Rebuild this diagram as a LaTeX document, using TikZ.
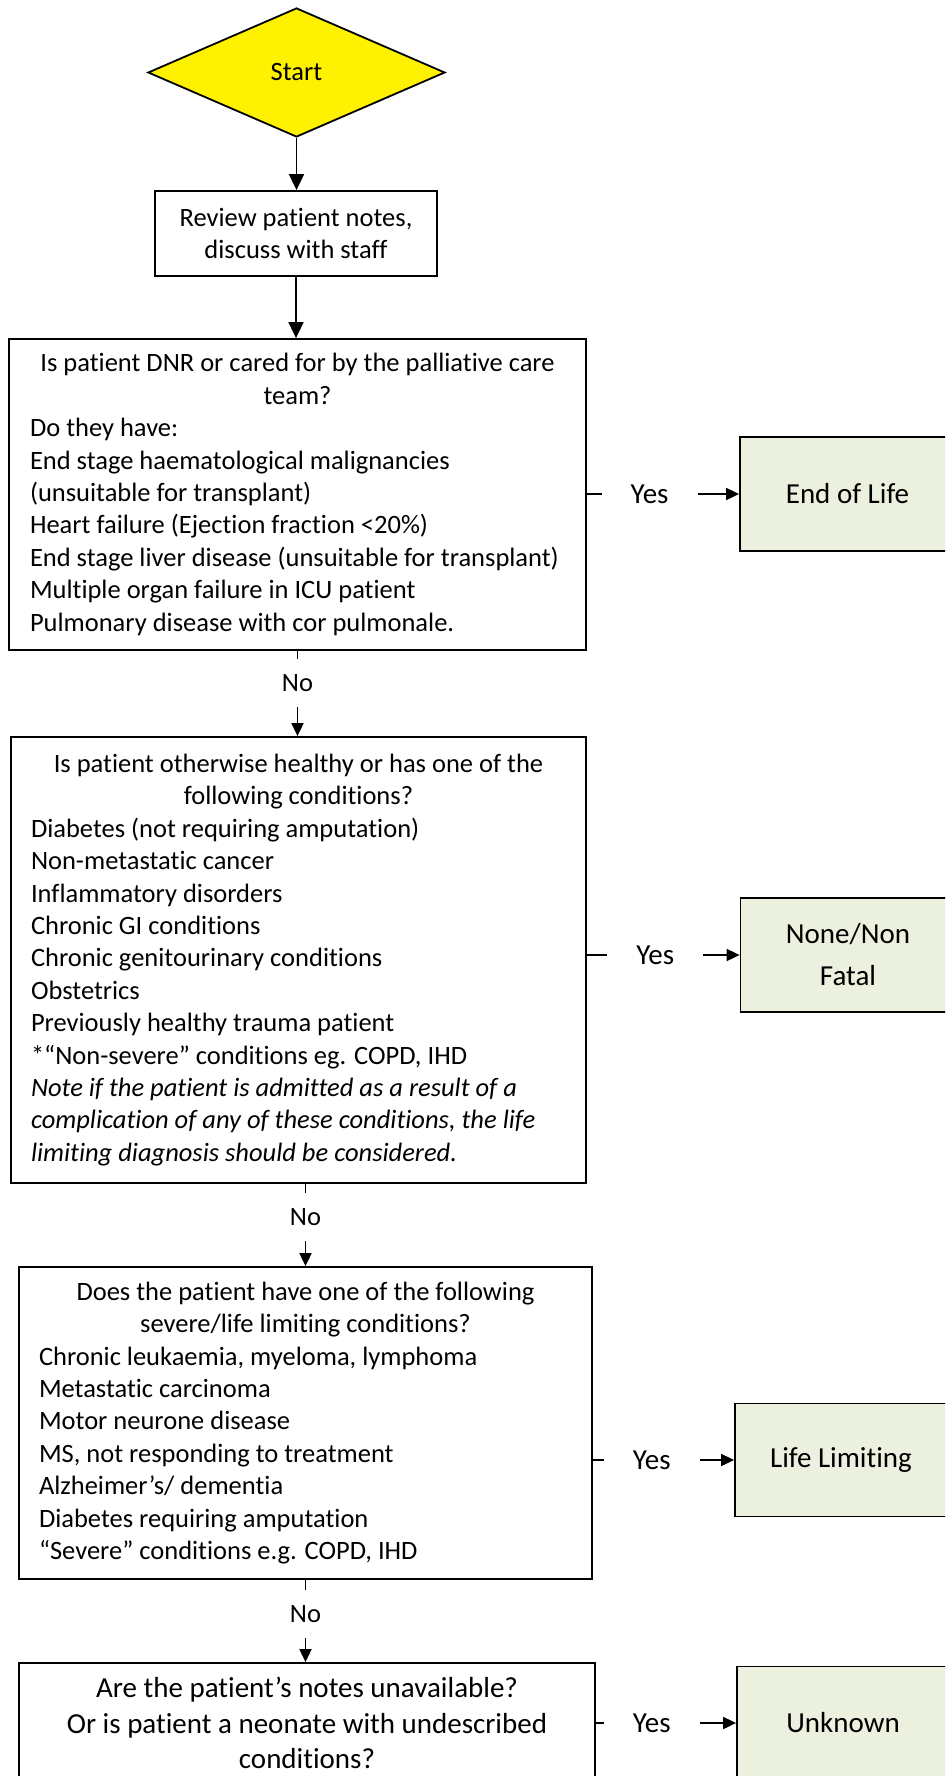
\documentclass[tikz,border=0pt]{standalone}
\usepackage{fontspec}
\setmainfont{Carlito}[Ligatures={TeX,NoCommon}]
\usetikzlibrary{shapes.geometric,arrows.meta}
\definecolor{endgreen}{HTML}{EBF1DE}
\begin{document}
\begin{tikzpicture}[x=1pt,y=-1pt,
  main/.style={font=\fontsize{26.5}{32.4}\selectfont},
  qbox/.style={draw, line width=1.8pt, inner sep=0pt, main},
  endbox/.style={draw, line width=1.8pt, fill=endgreen, inner sep=0pt,
    minimum width=215pt, minimum height=114pt,
    font=\fontsize{29}{42}\selectfont, align=center},
  arr/.style={line width=1.8pt, -{Triangle[length=13pt,width=12pt]}},
  arrbig/.style={line width=1.8pt, -{Triangle[length=16pt,width=15pt]}},
  nolab/.style={fill=white, inner sep=0pt, minimum width=40pt, minimum height=48pt, main},
  yeslab/.style={fill=white, inner sep=0pt, minimum width=96pt, minimum height=34pt,
    font=\fontsize{29}{35}\selectfont}]
\useasboundingbox (0,0) rectangle (945,1776);
\clip (0,0) rectangle (945,1776);

% start
\node[diamond, draw, fill=yellow, line width=1.8pt, minimum width=297pt,
  minimum height=129pt, inner sep=0pt, main] (start) at (296.5,72.5) {Start};

% review
\node[qbox, minimum width=282pt, minimum height=85pt, align=center]
  (review) at (296,233.5) {Review patient notes,\\discuss with staff};

% question 1
\node[qbox, minimum width=577pt, minimum height=311pt] (q1) at (297.5,494.5)
{\parbox{535pt}{\centering Is patient DNR or cared for by the palliative care\\team?\par
\raggedright Do they have:\\
End stage haematological malignancies\\
(unsuitable for transplant)\\
Heart failure (Ejection fraction <20\%)\\
\mbox{End stage liver disease (unsuitable for transplant)}\\
Multiple organ failure in ICU patient\\
Pulmonary disease with cor pulmonale.}};

% question 2
\node[qbox, minimum width=575pt, minimum height=446pt] (q2) at (298.5,960)
{\parbox{535pt}{\centering Is patient otherwise healthy or has one of the\\following conditions?\par
\raggedright Diabetes (not requiring amputation)\\
Non-metastatic cancer\\
Inflammatory disorders\\
Chronic GI conditions\\
Chronic genitourinary conditions\\
Obstetrics\\
Previously healthy trauma patient\\
{*}“Non-severe” conditions eg. COPD, IHD\\
\itshape Note if the patient is admitted as a result of a\\
\mbox{complication of any of these conditions, the life}\\
limiting diagnosis should be considered.}};

% question 3
\node[qbox, minimum width=573pt, minimum height=312pt] (q3) at (305.5,1423)
{\parbox{533pt}{\centering Does the patient have one of the following\\severe/life limiting conditions?\par
\raggedright Chronic leukaemia, myeloma, lymphoma\\
Metastatic carcinoma\\
Motor neurone disease\\
MS, not responding to treatment\\
Alzheimer’s/ dementia\\
Diabetes requiring amputation\\
“Severe” conditions e.g. COPD, IHD}};

% question 4
\node[qbox, minimum width=576pt, minimum height=120pt, align=center,
  font=\fontsize{29}{35.8}\selectfont] (q4) at (307,1723)
{Are the patient’s notes unavailable?\\Or is patient a neonate with undescribed\\conditions?};

% end boxes
\node[endbox] (e1) at (847.5,494) {End of Life};
\node[endbox] (e2) at (848,955) {None/Non\\Fatal};
\node[endbox, minimum width=212pt, minimum height=113pt] (e3) at (841,1460) {Life Limiting};
\node[endbox, minimum width=212pt, minimum height=113pt] (e4) at (843,1723) {Unknown};

% vertical connectors
\draw[arrbig] (start.south) -- (start.south |- review.north);
\draw[arrbig] (review.south) -- (review.south |- q1.north);
\draw[arr] (q1.south) -- node[nolab, pos=.379] {No} (q1.south |- q2.north);
\draw[arr] (q3.north |- q2.south) -- node[nolab, pos=.399] {No} (q3.north);
\draw[arr] (q3.south) -- node[nolab, pos=.411] {No} (q3.south |- q4.north);

% yes connectors
\draw[arr] (q1.east |- e1.west) -- node[yeslab, pos=.412] {Yes} (e1.west);
\draw[arr] (q2.east |- e2.west) -- node[yeslab, pos=.448] {Yes} (e2.west);
\draw[arr] (q3.east |- e3.west) -- node[yeslab, pos=.417] {Yes} (e3.west);
\draw[arr] (q4.east |- e4.west) -- node[yeslab, pos=.398] {Yes} (e4.west);
\end{tikzpicture}
\end{document}
